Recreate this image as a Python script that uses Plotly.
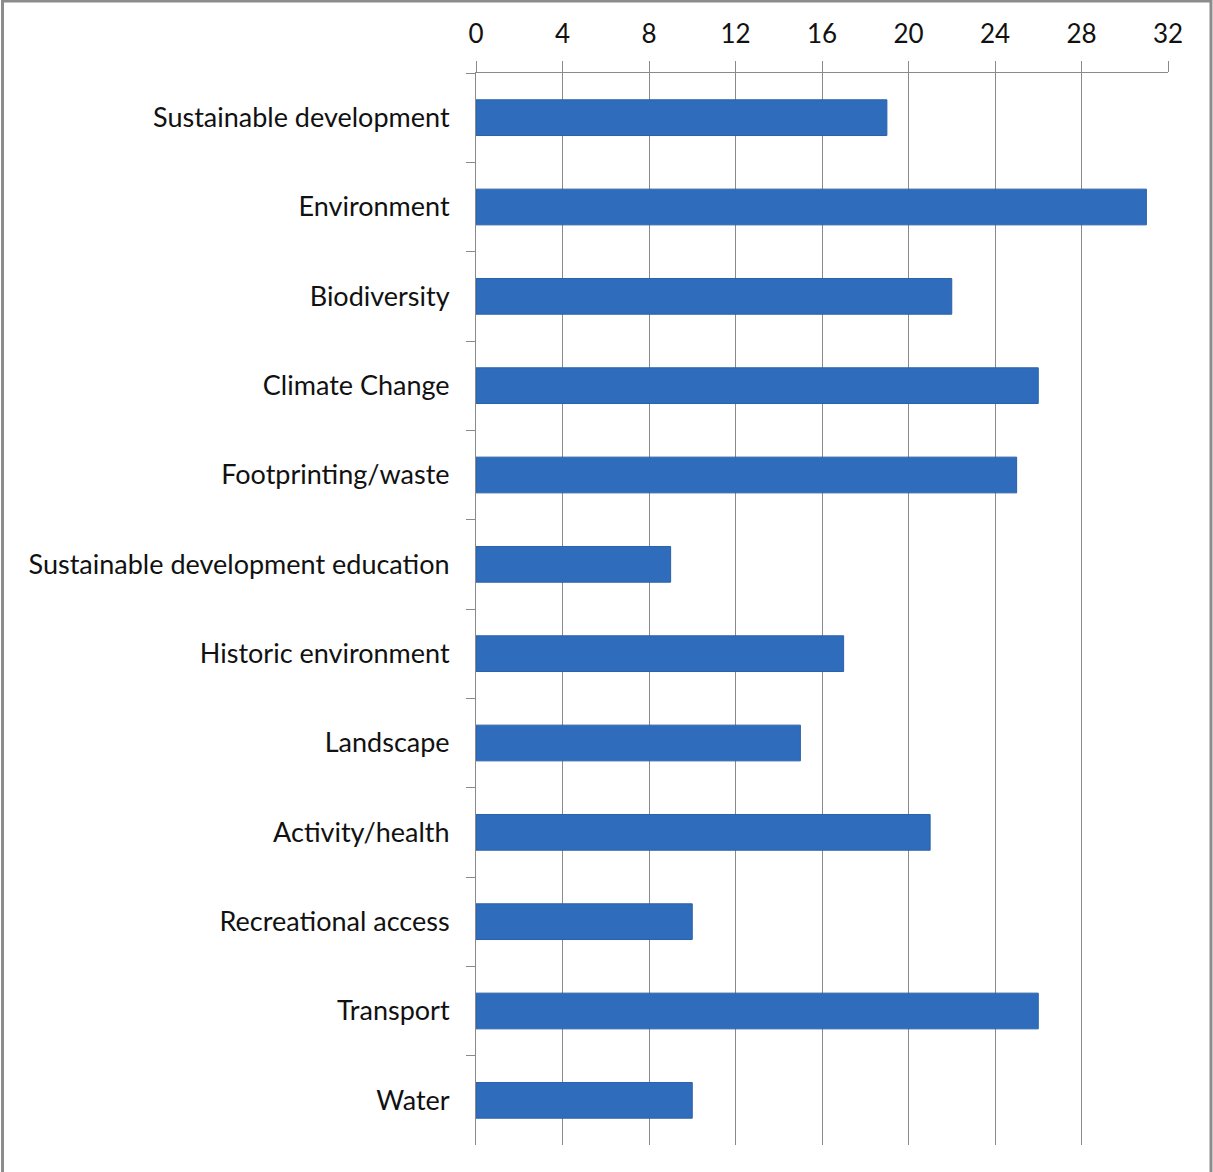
import plotly.graph_objects as go

categories = [
    "Sustainable development", "Environment", "Biodiversity", "Climate Change",
    "Footprinting/waste", "Sustainable development education", "Historic environment",
    "Landscape", "Activity/health", "Recreational access", "Transport", "Water",
]
values = [19, 31, 22, 26, 25, 9, 17, 15, 21, 10, 26, 10]
x_ticks = [0, 4, 8, 12, 16, 20, 24, 28, 32]

W, H = 1213, 1172
L, R, T, B = 476, 45, 73, 27
pw, ph = W - L - R, H - T - B

fig = go.Figure(go.Bar(
    y=categories, x=values, orientation="h",
    marker=dict(color="#2F6CBC", line=dict(color="#2A61A9", width=1)),
    width=0.4,
))

font = dict(family="Lato, Open Sans, sans-serif", size=27, color="#111111")
xfont = dict(family="Lato, Open Sans, sans-serif", size=26, color="#111111")
fig.update_layout(
    width=W, height=H, margin=dict(l=L, r=R, t=T, b=B),
    paper_bgcolor="white", plot_bgcolor="white",
    showlegend=False, font=font,
    xaxis=dict(side="top", range=[0, 32], tickvals=x_ticks, ticks="outside", ticklen=11,
               tickcolor="#8a8a8a", showgrid=True, gridcolor="#8a8a8a", gridwidth=1,
               showline=True, linecolor="#8a8a8a", linewidth=1, zeroline=False,
               tickfont=xfont, ticklabelstandoff=8),
    yaxis=dict(categoryorder="array", categoryarray=categories, autorange="reversed",
               ticks="outside", ticklen=9, tickson="boundaries", tickcolor="#8a8a8a",
               showline=True, linecolor="#8a8a8a", linewidth=1, showgrid=False,
               tickfont=font, ticklabelstandoff=20),
)

# outer frame (left, top, right edges; bottom cut off)
fig.add_shape(type="rect", xref="paper", yref="paper",
              x0=(2.5 - L) / pw, x1=(1211 - L) / pw,
              y0=(H - B - 1300) / ph, y1=(H - B - 1) / ph,
              line=dict(color="#8c8c8c", width=3), fillcolor="rgba(0,0,0,0)", layer="below")

fig.write_html("out.html")
